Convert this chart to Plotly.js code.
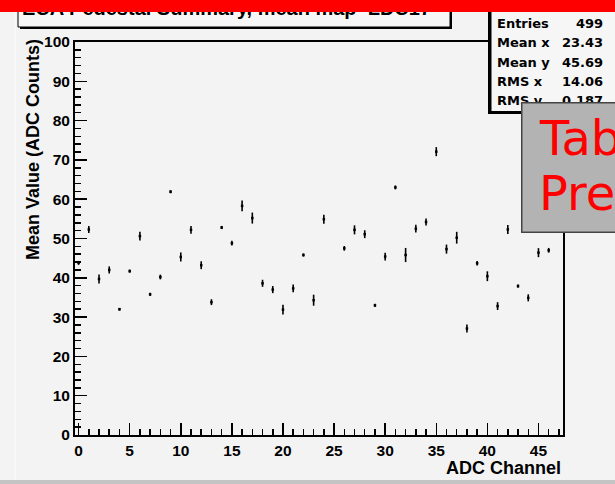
<!DOCTYPE html>
<html>
<head>
<meta charset="utf-8">
<script src="https://cdn.plot.ly/plotly-3.0.1.min.js"></script>
<style>
html,body{margin:0;padding:0;background:#f3f3f3;}
#chart{width:615px;height:484px;}
</style>
</head>
<body>
<div id="chart"></div>
<script>
// ---- data ----
const channels = [0,1,2,3,4,5,6,7,8,9,10,11,12,13,14,15,16,17,18,19,20,21,22,23,24,25,26,27,28,29,30,31,32,33,34,35,36,37,38,39,40,41,42,43,44,45,46];
const meanValues = [43.8,52.3,39.7,42.0,32.0,41.7,50.6,35.8,40.2,61.9,45.3,52.2,43.2,33.8,52.8,48.8,58.3,55.2,38.6,37.0,31.9,37.3,45.8,34.3,54.9,null,47.5,52.2,51.1,33.0,45.4,63.0,45.8,52.5,54.2,72.1,47.3,50.2,27.1,43.7,40.4,32.8,52.3,37.9,34.9,46.4,47.0];
const meanErrors = [0.5,0.9,1.15,0.9,0.35,0.4,1.1,0.4,0.6,0.4,1.15,1.0,1.0,0.75,0.4,0.6,1.35,1.4,0.9,0.9,1.25,1.0,0.4,1.4,1.15,null,0.6,1.15,1.0,0.4,1.0,0.5,1.8,1.0,0.9,1.15,1.15,1.5,1.0,0.6,1.25,1.0,1.15,0.4,0.9,1.15,0.6];
const titleText = "ECA Pedestal Summary, mean map  LDC17";
const xTitle = "ADC Channel";
const yTitle = "Mean Value (ADC Counts)";
const statLabels = ["Entries", "Mean x", "Mean y", "RMS x", "RMS y"];
const statValues = ["499", "23.43", "45.69", "14.06", "0.187"];
const overlayLines = ["Tab", "Pre"];

// ---- layout helpers (pixel -> paper) ----
const L = 75, R = 563, T = 42, B = 435;
const PW = R - L, PH = B - T;
const px = p => (p - L) / PW;
const py = p => (B - p) / PH;

const trace = {
  x: channels,
  y: meanValues,
  type: 'scatter',
  mode: 'markers',
  marker: {symbol: 'square', size: 2.5, color: '#000'},
  error_y: {type: 'data', array: meanErrors, visible: true, color: '#000', thickness: 1.6, width: 0},
  cliponaxis: false,
  hoverinfo: 'x+y',
  showlegend: false
};

const tickFont = {family: 'Liberation Sans, Arial, sans-serif', size: 15.5, color: '#000', weight: 'bold'};

const shapes = [
  {type: 'line', xref: 'paper', yref: 'paper', x0: px(15), x1: px(15), y0: py(12), y1: py(480), line: {color: '#fdfdfd', width: 1}, layer: 'above'},
  {type: 'rect', xref: 'paper', yref: 'paper', x0: px(0), x1: px(615), y0: py(480), y1: py(486), fillcolor: '#c4c4c4', line: {width: 0}, layer: 'above'},
  {type: 'rect', xref: 'paper', yref: 'paper', x0: px(20), x1: px(452), y0: py(29), y1: py(0), fillcolor: '#000', line: {width: 0}, layer: 'above'},
  {type: 'rect', xref: 'paper', yref: 'paper', x0: px(18), x1: px(450), y0: py(27), y1: py(-2), fillcolor: '#f7f7f7', line: {color: '#000', width: 1}, layer: 'above'},
  {type: 'rect', xref: 'paper', yref: 'paper', x0: px(488), x1: px(620), y0: py(114), y1: py(8), fillcolor: '#000', line: {width: 0}, layer: 'above'},
  {type: 'rect', xref: 'paper', yref: 'paper', x0: px(491), x1: px(620), y0: py(111.5), y1: py(6), fillcolor: '#f6f6f6', line: {color: '#000', width: 1}, layer: 'above'}
];

const statFont = {family: 'DejaVu Sans, sans-serif', size: 13, color: '#000', weight: 'bold'};
const annotations = [];

annotations.push({xref: 'paper', yref: 'paper', x: px(21), y: py(20), xanchor: 'left', yanchor: 'bottom',
  text: titleText, showarrow: false, borderpad: 0,
  font: {family: 'Liberation Sans, Arial, sans-serif', size: 20, color: '#000', weight: 'bold'}});

const rowCenters = [24, 43, 62, 81, 100];
statLabels.forEach((lab, i) => {
  annotations.push({xref: 'paper', yref: 'paper', x: px(496), y: py(rowCenters[i]), xanchor: 'left', yanchor: 'middle',
    text: lab, showarrow: false, borderpad: 0, font: statFont});
  annotations.push({xref: 'paper', yref: 'paper', x: px(604), y: py(rowCenters[i]), xanchor: 'right', yanchor: 'middle',
    text: statValues[i], showarrow: false, borderpad: 0, font: statFont});
});

annotations.push({xref: 'paper', yref: 'paper', x: px(562), y: py(468), xanchor: 'right', yanchor: 'middle',
  text: xTitle, showarrow: false, borderpad: 0,
  font: {family: 'Liberation Sans, Arial, sans-serif', size: 18, color: '#000', weight: 'bold'}});
annotations.push({xref: 'paper', yref: 'paper', x: px(33), y: py(150), xanchor: 'center', yanchor: 'middle',
  text: yTitle, textangle: -90, showarrow: false, borderpad: 0,
  font: {family: 'Liberation Sans, Arial, sans-serif', size: 18, color: '#000', weight: 'bold'}});

annotations.push({xref: 'paper', yref: 'paper', x: px(0), y: py(0), xanchor: 'left', yanchor: 'top',
  text: ' ', showarrow: false, width: 616, height: 12, borderpad: 0, borderwidth: 0,
  bgcolor: '#ff0000', font: {size: 1, color: '#ff0000'}});

annotations.push({xref: 'paper', yref: 'paper', x: px(520.5), y: py(102), xanchor: 'left', yanchor: 'top',
  text: ' ', showarrow: false, width: 100, height: 128, borderpad: 0, borderwidth: 1.5,
  bgcolor: '#b3b3b3', bordercolor: '#444', font: {size: 1, color: '#b3b3b3'}});
const overlayCenters = [138, 193];
overlayLines.forEach((t, i) => {
  annotations.push({xref: 'paper', yref: 'paper', x: px(538), y: py(overlayCenters[i]), xanchor: 'left', yanchor: 'middle',
    text: t, showarrow: false, borderpad: 0,
    font: {family: 'DejaVu Sans, sans-serif', size: 48, color: '#ff0000'}});
});

const layout = {
  width: 615, height: 484,
  margin: {l: L, r: 615 - R, t: T, b: 484 - B, pad: 0},
  paper_bgcolor: '#f3f3f3',
  plot_bgcolor: '#f3f3f3',
  xaxis: {
    range: [-0.35, 47.4], dtick: 5, tick0: 0,
    ticks: 'inside', ticklen: 12, tickwidth: 1.5, tickcolor: '#000',
    minor: {dtick: 1, ticks: 'inside', ticklen: 6, tickwidth: 1.5, tickcolor: '#000', showgrid: false},
    showline: true, mirror: true, linewidth: 2, linecolor: '#000',
    showgrid: false, zeroline: false, tickfont: tickFont
  },
  yaxis: {
    range: [0, 100], dtick: 10, tick0: 0,
    ticks: 'inside', ticklen: 12, tickwidth: 1.5, tickcolor: '#000',
    minor: {dtick: 2, ticks: 'inside', ticklen: 6, tickwidth: 1.5, tickcolor: '#000', showgrid: false},
    showline: true, mirror: true, linewidth: 2, linecolor: '#000',
    showgrid: false, zeroline: false, tickfont: tickFont
  },
  shapes: shapes,
  annotations: annotations,
  showlegend: false
};

Plotly.newPlot('chart', [trace], layout, {staticPlot: true, displayModeBar: false});
</script>
</body>
</html>
